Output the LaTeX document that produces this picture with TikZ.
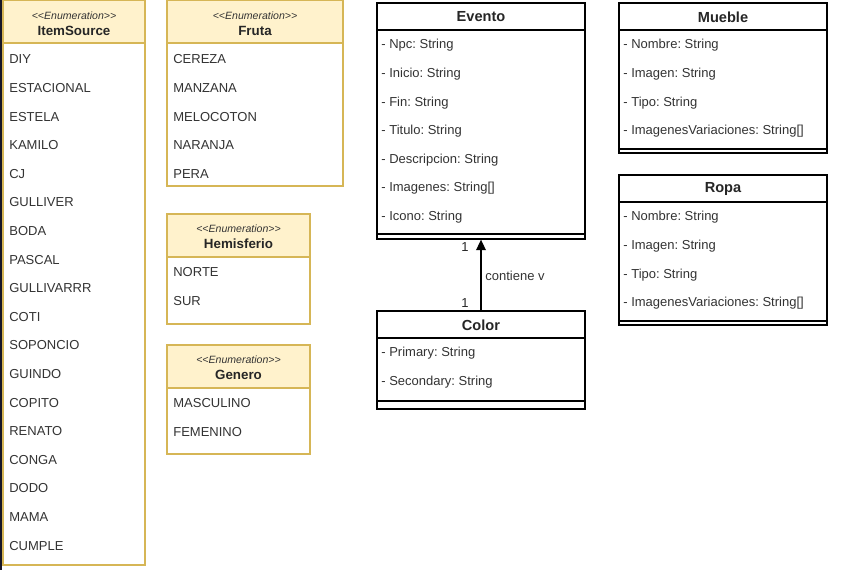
\documentclass[tikz,border=0pt]{standalone}
\usepackage{fontspec}
\setmainfont{Liberation Sans}
\usepackage{tikz}
\usetikzlibrary{arrows.meta,positioning,fit}
\definecolor{enumfill}{RGB}{255,242,204}
\definecolor{enumline}{RGB}{214,182,86}
\definecolor{umltext}{RGB}{51,51,51}
\definecolor{edgestrip}{RGB}{22,22,40}
\newcommand{\umlfont}{\fontsize{7.4}{9}\selectfont}
\frenchspacing

\begin{document}
\begin{tikzpicture}[x=0.02cm, y=-0.02cm,
  enumbox/.style={draw=enumline, fill=white, inner sep=0pt, line width=0.6pt},
  enumhead/.style={draw=enumline, fill=enumfill, line width=0.6pt},
  classbox/.style={draw=black, fill=white, inner sep=0pt, line width=0.75pt},
  sep/.style={line width=0.75pt},
  stereo/.style={font=\fontsize{6}{7}\selectfont\itshape, text=umltext, inner sep=0pt},
  enumtitle/.style={font=\fontsize{7.6}{9}\selectfont\bfseries, text=black!85, inner sep=0pt},
  title/.style={font=\fontsize{8.3}{10}\selectfont\bfseries, text=black!85, inner sep=0pt},
  item/.style={anchor=west, font=\umlfont, text=umltext, inner sep=0pt},
  mult/.style={font=\umlfont, text=black!85, inner sep=0pt}]
\useasboundingbox (0,0) rectangle (846,570);
\fill[edgestrip] (0,0) rectangle (2.5,570);
% ItemSource enumeration
\node[fit={(3,0) (145,565)}, enumbox] (itemsource) {};
\filldraw[enumhead] (3,0) rectangle (145,43);
\node[stereo] (itemsource-st) at (74,16) {{<}{<}Enumeration{>}{>}};
\node[enumtitle] (itemsource-name) at (74,31) {ItemSource};
\foreach \t [count=\i from 0] in {DIY,ESTACIONAL,ESTELA,KAMILO,CJ,GULLIVER,BODA,PASCAL,GULLIVARRR,COTI,SOPONCIO,GUINDO,COPITO,RENATO,CONGA,DODO,MAMA,CUMPLE}
  \node[item] (itemsource-\i) at (9,{59.5+28.6*\i}) {\t};
% Fruta enumeration
\node[fit={(167,0) (343,186)}, enumbox] (fruta) {};
\filldraw[enumhead] (167,0) rectangle (343,43);
\node[stereo] (fruta-st) at (255,16) {{<}{<}Enumeration{>}{>}};
\node[enumtitle] (fruta-name) at (255,31) {Fruta};
\foreach \t [count=\i from 0] in {CEREZA,MANZANA,MELOCOTON,NARANJA,PERA}
  \node[item] (fruta-\i) at (173,{59.5+28.6*\i}) {\t};
% Hemisferio enumeration
\node[fit={(167,214) (310,324)}, enumbox] (hemisferio) {};
\filldraw[enumhead] (167,214) rectangle (310,257);
\node[stereo] (hemisferio-st) at (238.5,229) {{<}{<}Enumeration{>}{>}};
\node[enumtitle] (hemisferio-name) at (238.5,244) {Hemisferio};
\foreach \t [count=\i from 0] in {NORTE,SUR}
  \node[item] (hemisferio-\i) at (173,{272.5+28.6*\i}) {\t};
% Genero enumeration
\node[fit={(167,345) (310,454)}, enumbox] (genero) {};
\filldraw[enumhead] (167,345) rectangle (310,388);
\node[stereo] (genero-st) at (238.5,360) {{<}{<}Enumeration{>}{>}};
\node[enumtitle] (genero-name) at (238.5,375) {Genero};
\foreach \t [count=\i from 0] in {MASCULINO,FEMENINO}
  \node[item] (genero-\i) at (173,{403.5+28.6*\i}) {\t};
% Evento class
\node[fit={(377,3) (585,239)}, classbox] (evento) {};
\draw[sep] (377,30) -- (585,30);
\draw[sep] (377,234) -- (585,234);
\node[title] (evento-name) at (481,17) {Evento};
\foreach \t [count=\i from 0] in {- Npc: String,- Inicio: String,- Fin: String,- Titulo: String,- Descripcion: String,- Imagenes: String[],- Icono: String}
  \node[item] (evento-\i) at (381,{45.5+28.6*\i}) {\t};
% Mueble class
\node[fit={(619,3) (827,153)}, classbox] (mueble) {};
\draw[sep] (619,30) -- (827,30);
\draw[sep] (619,149) -- (827,149);
\node[title] (mueble-name) at (723,17) {Mueble};
\foreach \t [count=\i from 0] in {- Nombre: String,- Imagen: String,- Tipo: String,- ImagenesVariaciones: String[]}
  \node[item] (mueble-\i) at (623,{45.5+28.6*\i}) {\t};
% Ropa class
\node[fit={(619,175) (827,325)}, classbox] (ropa) {};
\draw[sep] (619,202) -- (827,202);
\draw[sep] (619,321) -- (827,321);
\node[title] (ropa-name) at (723,189) {Ropa};
\foreach \t [count=\i from 0] in {- Nombre: String,- Imagen: String,- Tipo: String,- ImagenesVariaciones: String[]}
  \node[item] (ropa-\i) at (623,{217.5+28.6*\i}) {\t};
% Color class
\node[fit={(377,311) (585,409)}, classbox] (color) {};
\draw[sep] (377,338) -- (585,338);
\draw[sep] (377,401) -- (585,401);
\node[title] (color-name) at (481,325) {Color};
\foreach \t [count=\i from 0] in {- Primary: String,- Secondary: String}
  \node[item] (color-\i) at (381,{353.5+28.6*\i}) {\t};
% association
\draw[line width=0.75pt, -{Triangle[length=6pt, width=5.5pt]}] (color.north) -- (evento.south);
\node[mult] (mult-evento) at (465,247) {1};
\node[mult] (mult-color) at (465,303) {1};
\node[item] (contiene) at (485,276) {contiene v};
\end{tikzpicture}
\end{document}
